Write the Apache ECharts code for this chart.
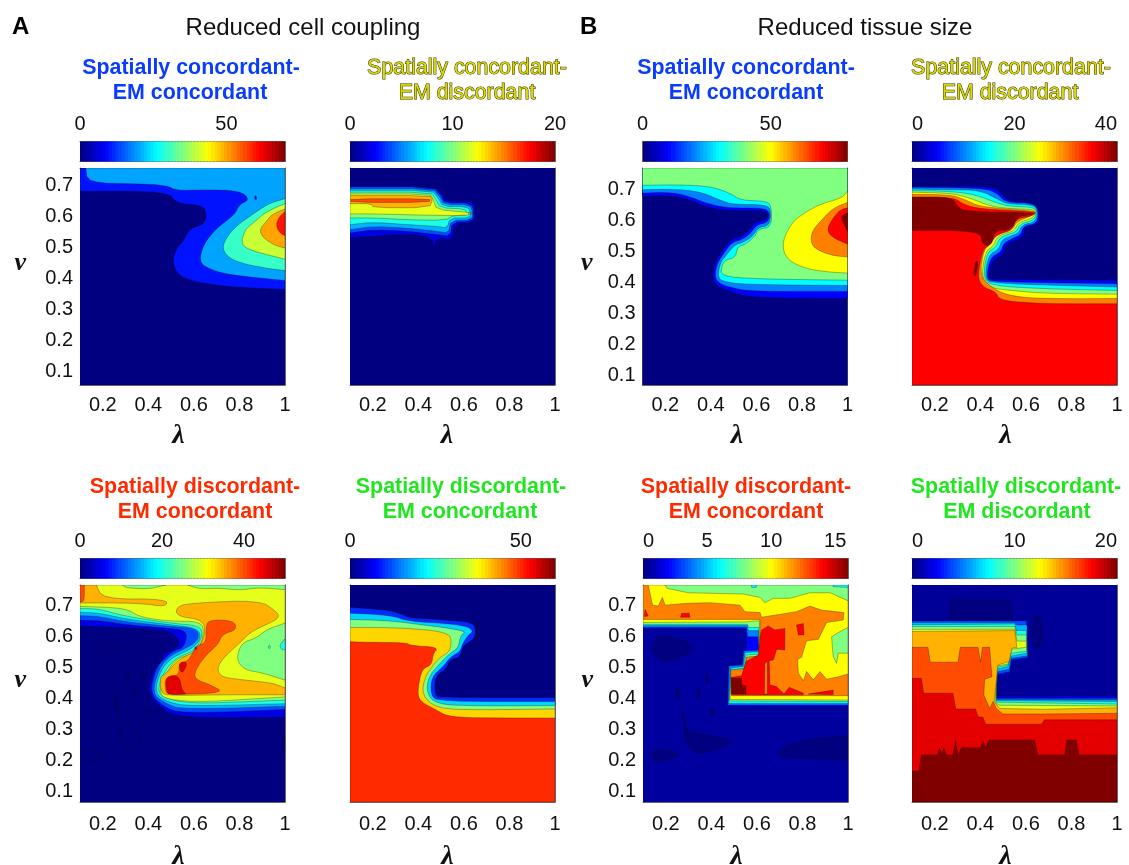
<!DOCTYPE html>
<html><head><meta charset="utf-8">
<style>html,body{margin:0;padding:0;background:#fff}#c{width:1129px;height:865px}</style>
<script src="https://cdn.jsdelivr.net/npm/echarts@6/dist/echarts.min.js"></script>
</head><body><div id="c"></div>
<script>
// ---------- Values ----------
const lambdaTicks = [0.2, 0.4, 0.6, 0.8, 1];
const nuTicks = [0.1, 0.2, 0.3, 0.4, 0.5, 0.6, 0.7];
const colorMax = [70, 20, 80, 40, 50, 60, 16, 20];
const colorTicks = [[0, 50], [0, 10, 20], [0, 50], [0, 20, 40], [0, 20, 40], [0, 50], [0, 5, 10, 15], [0, 10, 20]];
const headers = ['Reduced cell coupling', 'Reduced tissue size'];
const panelLetters = ['A', 'B'];
const titleLine1 = ['Spatially concordant-', 'Spatially concordant-', 'Spatially concordant-', 'Spatially concordant-',
  'Spatially discordant-', 'Spatially discordant-', 'Spatially discordant-', 'Spatially discordant-'];
const titleLine2 = ['EM concordant', 'EM discordant', 'EM concordant', 'EM discordant',
  'EM concordant', 'EM concordant', 'EM concordant', 'EM discordant'];

// Each contour band: [level, outline of the region in (lambda, nu)].
const top_ = c => c.concat([[1, .75], [.1, .75]]);
const bot_ = c => c.concat([[1, .05], [.1, .05]]);
const all_ = [[.1, .05], [1, .05], [1, .75], [.1, .75]];

const bandsP1 = [
  [0, all_],
  [10, top_([[.1,.675],[.488,.675],[.524,.635],[.644,.63],[.656,.594],[.641,.567],[.58,.554],[.554,.513],[.524,.492],[.505,.449],[.532,.401],[.627,.379],[.773,.366],[1,.358]])],
  [20, top_([[.126,.75],[.132,.702],[.363,.699],[.48,.694],[.524,.677],[.641,.68],[.802,.677],[.846,.648],[.799,.632],[.78,.6],[.7,.556],[.641,.503],[.624,.449],[.656,.428],[.744,.406],[1,.387]])],
  [10, [[.865,.648],[.87,.665],[.878,.648]]],
  [30, [[1,.651],[.934,.637],[.875,.61],[.773,.556],[.722,.5],[.744,.465],[.802,.444],[.905,.428],[1,.419]]],
  [40, [[1,.635],[.919,.61],[.861,.573],[.824,.551],[.805,.503],[.861,.481],[1,.456]]],
  [50, [[1,.618],[.941,.6],[.919,.578],[.887,.551],[.905,.524],[.956,.5],[1,.492]]],
  [60, [[1,.61],[.971,.589],[.961,.562],[.978,.54],[1,.532]]]
];
const bandsP2 = [
  [0, all_],
  [2, [[.1,.693],[.466,.693],[.513,.659],[.527,.643],[.644,.643],[.65,.605],[.646,.573],[.556,.57],[.551,.517],[.48,.526],[.469,.484],[.461,.526],[.356,.538],[.1,.524]]],
  [4, [[.1,.689],[.466,.689],[.502,.659],[.517,.637],[.634,.637],[.644,.605],[.638,.578],[.546,.575],[.542,.53],[.48,.535],[.352,.546],[.202,.551],[.1,.54]]],
  [6, [[.1,.683],[.463,.683],[.495,.656],[.513,.632],[.627,.632],[.638,.605],[.634,.583],[.542,.581],[.533,.54],[.48,.546],[.356,.556],[.202,.562],[.1,.551]]],
  [8, [[.1,.678],[.458,.678],[.488,.653],[.507,.626],[.612,.626],[.63,.608],[.627,.589],[.539,.589],[.527,.556],[.48,.562],[.356,.567],[.202,.575],[.1,.567]]],
  [10, [[.1,.672],[.454,.672],[.477,.648],[.498,.621],[.605,.618],[.612,.605],[.609,.597],[.554,.597],[.517,.581],[.356,.583],[.202,.589],[.1,.589]]],
  [12, [[.1,.666],[.451,.666],[.466,.648],[.48,.616],[.605,.608],[.641,.603],[.605,.597],[.48,.597],[.202,.602],[.1,.602]]],
  [14, [[.1,.661],[.451,.661],[.463,.648],[.448,.622],[.202,.622],[.195,.635],[.1,.635]]],
  [14, [[.62,.607],[.635,.603],[.62,.6]]],
  [16, [[.104,.651],[.451,.651],[.448,.639],[.104,.639]]]
];
const bandsP3 = [
  [0, all_],
  [10, top_([[.1,.659],[.236,.661],[.309,.646],[.382,.624],[.47,.612],[.631,.612],[.654,.603],[.646,.583],[.594,.576],[.565,.546],[.529,.527],[.485,.519],[.448,.481],[.419,.444],[.404,.401],[.426,.368],[.485,.352],[.58,.331],[1,.329]])],
  [20, top_([[.1,.669],[.236,.672],[.317,.655],[.39,.634],[.477,.621],[.631,.621],[.66,.607],[.653,.575],[.602,.567],[.573,.538],[.536,.519],[.492,.51],[.458,.476],[.429,.444],[.416,.401],[.436,.377],[.499,.362],[.587,.352],[1,.352]])],
  [30, top_([[.1,.68],[.251,.682],[.36,.672],[.441,.646],[.499,.632],[.646,.632],[.665,.61],[.657,.564],[.609,.559],[.584,.53],[.543,.51],[.507,.503],[.47,.471],[.441,.444],[.431,.401],[.448,.385],[.543,.374],[1,.371]])],
  [40, top_([[.1,.694],[.251,.696],[.397,.691],[.485,.669],[.529,.646],[.646,.643],[.666,.626],[.666,.559],[.609,.553],[.594,.53],[.551,.503],[.518,.497],[.507,.46],[.463,.454],[.448,.433],[.444,.401],[.602,.392],[1,.388]])],
  [50, [[1,.675],[.975,.653],[.872,.632],[.777,.589],[.741,.556],[.712,.503],[.734,.454],[.821,.424],[.924,.414],[1,.411]]],
  [60, [[1,.639],[.938,.621],[.887,.583],[.843,.546],[.839,.503],[.88,.481],[.938,.467],[1,.463]]],
  [70, [[1,.621],[.968,.616],[.931,.583],[.909,.549],[.938,.524],[1,.505]]],
  [80, [[1,.605],[.975,.597],[.975,.583],[1,.546]]]
];
const bandsP4 = [
  [0, all_],
  [5, bot_([[.1,.691],[.429,.691],[.48,.68],[.517,.643],[.634,.64],[.663,.61],[.656,.567],[.597,.56],[.59,.53],[.554,.517],[.51,.503],[.502,.47],[.451,.454],[.436,.395],[.444,.39],[1,.388]])],
  [10, bot_([[.1,.688],[.415,.685],[.473,.669],[.51,.639],[.634,.637],[.656,.61],[.649,.57],[.59,.564],[.578,.535],[.546,.524],[.502,.508],[.491,.478],[.444,.463],[.426,.395],[.451,.382],[1,.377]])],
  [15, bot_([[.1,.682],[.268,.68],[.4,.678],[.48,.648],[.517,.634],[.634,.632],[.652,.61],[.641,.575],[.583,.567],[.568,.54],[.532,.53],[.495,.519],[.48,.487],[.436,.47],[.419,.395],[.451,.377],[1,.366]])],
  [20, bot_([[.1,.677],[.268,.675],[.378,.664],[.473,.637],[.532,.626],[.634,.624],[.649,.608],[.634,.581],[.575,.57],[.558,.543],[.517,.535],[.485,.524],[.466,.492],[.429,.478],[.412,.395],[.451,.37],[.693,.36],[1,.355]])],
  [25, bot_([[.1,.672],[.268,.669],[.356,.653],[.444,.626],[.546,.618],[.637,.616],[.644,.605],[.627,.587],[.568,.575],[.546,.546],[.51,.54],[.473,.527],[.456,.497],[.422,.481],[.404,.395],[.444,.363],[.532,.355],[.693,.345],[1,.343]])],
  [30, bot_([[.1,.665],[.268,.664],[.334,.648],[.4,.624],[.634,.612],[.643,.605],[.619,.594],[.561,.578],[.539,.549],[.495,.54],[.466,.53],[.444,.503],[.415,.487],[.397,.401],[.458,.36],[.535,.336],[.693,.328],[1,.329]])],
  [35, bot_([[.1,.656],[.283,.656],[.327,.632],[.4,.618],[.634,.609],[.644,.603],[.619,.594],[.558,.586],[.539,.551],[.492,.54],[.461,.527],[.441,.503],[.41,.487],[.388,.401],[.407,.368],[.47,.349],[.48,.328],[.546,.318],[.693,.312],[1,.312]])],
  [40, [[.1,.656],[.276,.656],[.305,.621],[.341,.61],[.634,.605],[.627,.6],[.561,.594],[.539,.551],[.461,.548],[.451,.501],[.41,.501],[.4,.548],[.1,.548]]],
  [40, [[.378,.449],[.39,.449],[.382,.403],[.371,.403]]]
];
const bandsP5 = [
  [0, all_],
  [0, [[.162,.55],[.184,.565],[.228,.563],[.279,.549],[.242,.531],[.191,.529]]],
  [0, [[.125,.228],[.213,.2],[.128,.173]]],
  [0, [[.275,.326],[.389,.248],[.286,.21]]],
  [0, [[.245,.423],[.275,.332],[.26,.326]]],
  [0, [[.308,.482],[.319,.455],[.308,.423],[.301,.455]]],
  [0, [[.377,.466],[.386,.45],[.379,.432],[.373,.45]]],
  [0, [[.339,.418],[.345,.402],[.339,.382],[.333,.402]]],
  [0, [[.397,.35],[.408,.35],[.401,.329]]],
  [0, [[.984,.251],[1,.251],[1,.219]]],
  [5, top_([[.1,.617],[.375,.611],[.507,.6],[.543,.558],[.507,.541],[.47,.531],[.455,.498],[.419,.477],[.397,.402],[.448,.359],[.521,.321],[1,.323]])],
  [10, top_([[.1,.636],[.191,.635],[.301,.622],[.477,.611],[.573,.604],[.558,.549],[.514,.539],[.474,.515],[.433,.482],[.407,.402],[.463,.359],[.543,.335],[1,.348]])],
  [15, top_([[.1,.651],[.184,.649],[.286,.633],[.477,.617],[.609,.611],[.624,.582],[.595,.558],[.543,.539],[.492,.52],[.448,.482],[.416,.402],[.47,.369],[.551,.348],[1,.359]])],
  [20, top_([[.1,.662],[.184,.66],[.301,.64],[.492,.622],[.617,.611],[.631,.58],[.602,.55],[.551,.531],[.504,.515],[.455,.477],[.426,.402],[.485,.372],[.58,.359],[1,.367]])],
  [25, top_([[.1,.674],[.184,.673],[.286,.651],[.492,.627],[.624,.619],[.639,.59],[.609,.541],[.558,.525],[.514,.509],[.47,.472],[.436,.402],[.499,.378],[.624,.367],[1,.379]])],
  [30, top_([[.1,.681],[.301,.676],[.36,.647],[.492,.633],[.631,.633],[.646,.595],[.617,.529],[.565,.522],[.521,.509],[.48,.468],[.445,.402],[.485,.38],[.639,.372],[1,.389]])],
  [25, [[.286,.75],[.301,.741],[.397,.737],[.448,.745],[.477,.75]]],
  [25, [[.573,.75],[.624,.737],[.712,.74],[.8,.733],[.888,.742],[1,.735],[1,.75]]],
  [25, [[1,.627],[.918,.606],[.874,.579],[.808,.563],[.786,.509],[.822,.477],[.903,.466],[1,.443]]],
  [20, [[1,.576],[.976,.557],[.984,.541],[1,.541]]],
  [20, [[.925,.55],[.931,.557],[.937,.55],[.931,.543]]],
  [35, [[.1,.75],[.172,.75],[.198,.705],[.48,.705],[.48,.679],[.36,.692],[.1,.692]]],
  [40, [[.1,.75],[.119,.75],[.119,.696],[.1,.696]]],
  [35, [[.524,.681],[.595,.692],[.888,.701],[.962,.665],[.976,.644],[.918,.622],[.852,.6],[.808,.568],[.705,.498],[.709,.455],[.8,.445],[.947,.434],[1,.418],[1,.396],[.741,.396],[.492,.393],[.455,.402],[.451,.455],[.474,.461],[.521,.501],[.565,.522],[.617,.539],[.651,.595],[.639,.638],[.524,.649]]],
  [40, [[.661,.638],[.778,.635],[.786,.604],[.727,.593],[.705,.558],[.671,.536],[.631,.504],[.602,.466],[.609,.445],[.668,.429],[.739,.402],[.492,.396],[.474,.407],[.474,.455],[.536,.458],[.533,.498],[.573,.504],[.595,.531],[.609,.554],[.653,.563],[.653,.606]]],
  [45, [[.477,.455],[.536,.459],[.548,.407],[.573,.398],[.492,.396],[.48,.407]]],
  [45, [[.536,.502],[.573,.501],[.554,.468],[.539,.472]]],
  [45, [[.602,.55],[.614,.55],[.609,.539]]]
];
const bandsP6 = [
  [0, all_],
  [0, [[.66,.643],[.663,.594],[.66,.546],[.657,.594]]],
  [10, bot_([[.1,.678],[.276,.669],[.334,.653],[.371,.643],[.524,.637],[.641,.629],[.653,.6],[.641,.573],[.597,.556],[.583,.517],[.539,.51],[.524,.481],[.473,.454],[.473,.395],[.495,.387],[1,.387]])],
  [20, bot_([[.1,.659],[.276,.653],[.363,.632],[.524,.626],[.619,.616],[.641,.6],[.619,.589],[.594,.56],[.583,.535],[.539,.517],[.51,.487],[.458,.454],[.454,.395],[.488,.374],[1,.374]])],
  [30, bot_([[.1,.639],[.276,.635],[.422,.621],[.51,.613],[.612,.6],[.586,.589],[.575,.546],[.539,.53],[.495,.497],[.444,.454],[.436,.401],[.48,.365],[.641,.36],[1,.361]])],
  [40, bot_([[.1,.613],[.276,.613],[.451,.605],[.524,.594],[.546,.578],[.539,.535],[.495,.517],[.466,.492],[.429,.454],[.415,.395],[.48,.352],[.641,.347],[1,.35]])],
  [50, bot_([[.1,.567],[.173,.565],[.349,.564],[.363,.555],[.488,.549],[.466,.53],[.458,.492],[.422,.481],[.407,.454],[.396,.395],[.415,.371],[.48,.347],[.524,.327],[.641,.321],[1,.321]])]
];
const bandsP7 = [
  [0.5, all_],
  [0, [[.138,.557],[.167,.583],[.219,.587],[.343,.549],[.233,.506],[.182,.506],[.145,.53]]],
  [0, [[.27,.374],[.284,.298],[.299,.277],[.394,.264],[.508,.248],[.423,.218],[.292,.202]]],
  [0, [[.138,.226],[.289,.204],[.138,.17]]],
  [0, [[.675,.199],[.76,.248],[1,.263],[1,.186],[.804,.191]]],
  [0, [[.248,.424],[.265,.398],[.252,.377],[.245,.401]]],
  [0, [[.343,.422],[.35,.401],[.343,.377],[.336,.401]]],
  [0, [[.382,.471],[.388,.449],[.379,.428],[.375,.449]]],
  [0, [[.398,.355],[.416,.345],[.404,.323],[.394,.345]]],
  [2, top_([[.1,.609],[.549,.609],[.555,.549],[.54,.543],[.533,.494],[.476,.492],[.467,.358],[1,.358]])],
  [4, top_([[.1,.613],[.555,.613],[.559,.583],[.603,.583],[.608,.54],[.543,.537],[.537,.492],[.477,.489],[.473,.363],[1,.363]])],
  [6, top_([[.1,.619],[.558,.619],[.562,.603],[.608,.603],[.611,.535],[.548,.532],[.54,.487],[.486,.482],[.476,.368],[1,.368]])],
  [8, top_([[.1,.623],[.558,.623],[.564,.613],[.608,.613],[.611,.527],[.552,.524],[.543,.481],[.489,.476],[.479,.376],[1,.374]])],
  [10, top_([[.1,.629],[.548,.631],[.611,.635],[.612,.521],[.555,.516],[.548,.478],[.491,.472],[.482,.381],[1,.379]])],
  [8, [[.197,.75],[.207,.739],[.299,.725],[.416,.723],[.54,.721],[.614,.71],[.635,.693],[.672,.707],[.745,.707],[.833,.725],[.921,.725],[1,.699],[1,.75]]],
  [6, [[.577,.75],[.599,.75],[.596,.742],[.577,.742]]],
  [6, [[.935,.75],[1,.75],[1,.742],[.935,.745]]],
  [8, [[1,.613],[.965,.6],[.928,.583],[.935,.519],[.95,.497],[.957,.53],[1,.53]]],
  [12, [[.1,.75],[.123,.75],[.142,.685],[.167,.682],[.185,.71],[.197,.685],[.292,.691],[.394,.693],[.526,.685],[.548,.664],[.614,.661],[.621,.646],[.774,.664],[.833,.682],[.884,.669],[.982,.661],[.979,.637],[.906,.629],[.87,.575],[.818,.57],[.796,.517],[.779,.51],[.782,.465],[.804,.441],[.818,.471],[.848,.444],[.877,.471],[.906,.446],[.957,.454],[1,.463],[1,.393],[.488,.393],[.485,.476],[.548,.48],[.555,.517],[.614,.521],[.614,.639],[.1,.639]]],
  [14, [[.621,.605],[.65,.618],[.679,.605],[.723,.61],[.723,.54],[.687,.543],[.672,.508],[.654,.506],[.657,.428],[.687,.422],[.719,.398],[.742,.42],[.804,.401],[.804,.396],[.489,.396],[.486,.452],[.533,.457],[.552,.503],[.606,.524],[.614,.583]]],
  [12, [[.633,.398],[.635,.497],[.646,.503],[.646,.398]]],
  [14, [[.774,.621],[.804,.626],[.807,.589],[.782,.589]]],
  [14, [[.826,.398],[.935,.411],[.935,.396]]],
  [14, [[.27,.659],[.303,.659],[.306,.646],[.265,.646]]],
  [14, [[.109,.672],[.123,.65],[.106,.648]]],
  [16, [[.489,.449],[.533,.449],[.533,.428],[.552,.424],[.552,.398],[.489,.398]]]
];
const bandsP8 = [
  [0.5, all_],
  [0, [[.273,.702],[.529,.702],[.543,.642],[.262,.642]]],
  [0, [[.643,.65],[.66,.65],[.675,.602],[.66,.549],[.638,.549],[.631,.602]]],
  [2, bot_([[.1,.637],[.609,.637],[.614,.546],[.609,.51],[.54,.503],[.532,.463],[.48,.457],[.47,.392],[1,.392]])],
  [4, bot_([[.1,.634],[.602,.634],[.609,.517],[.536,.508],[.529,.47],[.477,.463],[.467,.385],[1,.385]])],
  [6, bot_([[.1,.629],[.551,.629],[.558,.621],[.605,.621],[.606,.521],[.536,.514],[.526,.478],[.475,.47],[.467,.381],[1,.379]])],
  [8, bot_([[.1,.622],[.551,.624],[.558,.603],[.602,.603],[.605,.53],[.536,.521],[.521,.487],[.47,.478],[.469,.377],[1,.374]])],
  [10, bot_([[.1,.616],[.551,.616],[.561,.589],[.602,.589],[.603,.536],[.536,.53],[.521,.492],[.47,.484],[.47,.372],[1,.366]])],
  [12, bot_([[.1,.607],[.551,.607],[.561,.569],[.602,.569],[.602,.549],[.536,.543],[.521,.495],[.473,.489],[.464,.37],[.485,.362],[1,.36]])],
  [14, bot_([[.1,.6],[.551,.603],[.561,.549],[.539,.546],[.526,.503],[.477,.492],[.461,.374],[.485,.352],[.675,.349],[1,.354]])],
  [16, bot_([[.1,.549],[.17,.549],[.18,.501],[.302,.501],[.312,.549],[.39,.549],[.401,.501],[.409,.549],[.441,.549],[.451,.454],[.419,.446],[.415,.395],[.441,.352],[.456,.374],[.47,.352],[.499,.334],[.675,.334],[1,.336]])],
  [18, bot_([[.1,.449],[.141,.449],[.151,.401],[.28,.401],[.292,.35],[.379,.35],[.39,.325],[.412,.323],[.423,.301],[.668,.301],[.682,.315],[1,.315]])],
  [20, bot_([[.1,.15],[.131,.15],[.141,.202],[.211,.202],[.221,.225],[.23,.204],[.24,.225],[.251,.202],[.28,.202],[.292,.248],[.302,.202],[.317,.225],[.401,.225],[.412,.248],[.423,.225],[.438,.25],[.638,.25],[.653,.202],[.77,.202],[.78,.25],[.821,.25],[.833,.202],[1,.202]])]
];
const allBands = [bandsP1, bandsP2, bandsP3, bandsP4, bandsP5, bandsP6, bandsP7, bandsP8];

// ---------- Layout and style ----------
const panelLeft = [80, 350, 642.5, 912, 80, 350, 643, 912];
const panelTop = [168, 168, 168, 168, 585, 585, 585, 585];
const panelW = 205, panelH = 217, barH = 20, barGap = 26.5;
const titleX = [191, 467, 746, 1011, 195, 461, 746, 1016];
const titleX2 = [190, 467, 746, 1010, 195, 460, 746, 1017];
const titleY = [68, 68, 68, 68, 487, 487, 487, 487];
const titleColor = ['#0a3cff', '#dcd800', '#0a3cff', '#dcd800', '#ff2a00', '#1fe61f', '#ff2a00', '#1fe61f'];
const titleOutline = [false, true, false, true, false, false, false, false];
const alignMin = [null, null, null, 'left', null, null, 'left', 'left'];
const alignMax = [null, null, null, 'right', null, null, null, 'right'];
const nuLabelLineHeight = [4, 0, 12, 0, 10, 0, 10, 0];
const nuNameGap = [54, 0, 50, 0, 54, 0, 50, 0];
const lambdaNameGap = [37, 37, 37, 37, 41, 41, 41, 41];
const lambdaNamePad = [8, 11, 16, 18, 8, 10, 18, 18];
const lambdaLabelMargin = [10, 10, 10, 10, 12, 12, 12, 12];
const roundPasses = [2, 1, 2, 2, 2, 2, 0, 0];
const FONT = '"Liberation Sans", Arial, sans-serif';
const SYM = '"Liberation Serif", serif';
const EDGE = '#666';

function jet(t) {
  t = Math.max(0, Math.min(1, t));
  const c = x => Math.round(255 * Math.max(0, Math.min(1, x)));
  const r = 1.5 - Math.abs(4 * t - 3), g = 1.5 - Math.abs(4 * t - 2), b = 1.5 - Math.abs(4 * t - 1);
  return 'rgb(' + c(r) + ',' + c(g) + ',' + c(b) + ')';
}
// Rounds the corners of an outline the way a contour line looks; points on the plot edge stay put.
function roundOutline(pts, passes) {
  const onEdge = v => v[0] <= .1 || v[0] >= 1 || v[1] >= .75 || v[1] <= .05;
  const mix = (a, b) => [a[0] * .75 + b[0] * .25, a[1] * .75 + b[1] * .25];
  let cur = pts;
  for (let n = 0; n < passes; n++) {
    const out = [];
    cur.forEach((v, i) => {
      if (onEdge(v)) { out.push(v); return; }
      out.push(mix(v, cur[(i - 1 + cur.length) % cur.length]), mix(v, cur[(i + 1) % cur.length]));
    });
    cur = out;
  }
  return cur;
}

const grid = [], xAxis = [], yAxis = [], series = [], graphicEls = [];
function addBox(idx, gridSpec, xOpt, yOpt, xOther, yOther) {
  grid.push(Object.assign({ outerBoundsMode: 'none', containLabel: false }, gridSpec));
  xAxis.push(Object.assign({ type: 'value', gridIndex: idx, position: 'bottom' }, xOpt));
  xAxis.push(Object.assign({ type: 'value', gridIndex: idx, position: 'top' }, xOther));
  yAxis.push(Object.assign({ type: 'value', gridIndex: idx, position: 'left' }, yOpt));
  yAxis.push(Object.assign({ type: 'value', gridIndex: idx, position: 'right' }, yOther));
}
const line = { show: true, onZero: false, lineStyle: { color: EDGE, width: 1 } };
const tick = vals => ({ show: true, inside: true, length: 2.5, customValues: vals, lineStyle: { color: EDGE, width: 1 } });
const off = { show: false };

allBands.forEach((bands, p) => {
  const g = grid.length;
  const max = colorMax[p];
  const showY = p % 2 === 0;
  addBox(g, { left: panelLeft[p], top: panelTop[p], width: panelW, height: panelH },
    { min: .1, max: 1, axisLine: line, axisTick: tick(lambdaTicks), splitLine: off,
      axisLabel: { show: true, customValues: lambdaTicks, margin: lambdaLabelMargin[p], fontFamily: FONT, fontSize: 20, color: '#111', formatter: v => String(v) },
      name: 'λ', nameLocation: 'middle', nameGap: lambdaNameGap[p],
      nameTextStyle: { fontFamily: SYM, fontStyle: 'italic', fontWeight: 'bold', fontSize: 28, color: '#111', padding: [0, lambdaNamePad[p], 0, 0] } },
    { min: .05, max: .75, axisLine: line, axisTick: tick(nuTicks), splitLine: off,
      axisLabel: showY ? { show: true, customValues: nuTicks, margin: 7, verticalAlign: 'top', lineHeight: nuLabelLineHeight[p],
        fontFamily: FONT, fontSize: 20, color: '#111', formatter: v => String(v) } : off,
      name: showY ? 'ν' : '', nameLocation: 'middle', nameRotate: 0, nameGap: nuNameGap[p],
      nameTextStyle: { fontFamily: SYM, fontStyle: 'italic', fontWeight: 'bold', fontSize: 26, color: '#111', verticalAlign: 'bottom' } },
    { min: .1, max: 1, axisLine: line, axisTick: tick(lambdaTicks), axisLabel: off, splitLine: off },
    { min: .05, max: .75, axisLine: line, axisTick: tick(nuTicks), axisLabel: off, splitLine: off });
  const outlines = bands.map(b => roundOutline(b[1], (p === 6 && b[0] === 0) ? 2 : roundPasses[p]));
  series.push({
    type: 'custom', coordinateSystem: 'cartesian2d', xAxisIndex: 2 * g, yAxisIndex: 2 * g,
    animation: false, silent: true, clip: true,
    data: bands.map((b, i) => [i]),
    renderItem: (params, api) => {
      const i = api.value(0), b = bands[i];
      const isBase = b[1] === all_;
      return { type: 'polygon', shape: { points: outlines[i].map(pt => api.coord(pt)) },
        style: { fill: jet(b[0] / max), stroke: isBase ? null : 'rgba(20,10,0,0.5)', lineWidth: isBase ? 0 : 0.6 } };
    }
  });
  const cb = grid.length;
  addBox(cb, { left: panelLeft[p], top: panelTop[p] - barGap, width: panelW, height: barH },
    { min: 0, max: max, axisLine: line, axisTick: tick(colorTicks[p]), axisLabel: off, splitLine: off },
    { min: 0, max: 1, axisLine: line, axisTick: off, axisLabel: off, splitLine: off },
    { min: 0, max: max, axisLine: line, axisTick: tick(colorTicks[p]), splitLine: off,
      axisLabel: { show: true, customValues: colorTicks[p], margin: 7, fontFamily: FONT, fontSize: 20, color: '#111',
        alignMinLabel: alignMin[p] || undefined, alignMaxLabel: alignMax[p] || undefined } },
    { min: 0, max: 1, axisLine: line, axisTick: off, axisLabel: off, splitLine: off });
  series.push({
    type: 'custom', coordinateSystem: 'cartesian2d', xAxisIndex: 2 * cb, yAxisIndex: 2 * cb,
    animation: false, silent: true, data: Array.from({ length: 64 }, (_, i) => [i]),
    renderItem: (params, api) => {
      const i = api.value(0);
      const a = api.coord([i / 64 * max, 0]), c = api.coord([(i + 1) / 64 * max, 1]);
      const x0 = Math.round(a[0]), x1 = Math.round(c[0]);
      return { type: 'rect', shape: { x: x0, y: c[1], width: Math.min(x1 - x0 + 1, panelLeft[p] + panelW - x0), height: a[1] - c[1] },
        style: { fill: jet((i + 0.5) / 64) } };
    }
  });
  [[titleLine1[p], titleX[p], titleY[p]], [titleLine2[p], titleX2[p], titleY[p] + 25]].forEach(t => {
    graphicEls.push({ type: 'text', x: t[1], y: t[2], silent: true, z: 50,
      style: { text: t[0], align: 'center', verticalAlign: 'middle',
        font: (titleOutline[p] ? 'normal' : 'bold') + ' 21.4px ' + FONT, fill: titleColor[p],
        stroke: titleOutline[p] ? '#2a2a00' : null, lineWidth: titleOutline[p] ? 1 : 0 } });
  });
});

[[headers[0], 303], [headers[1], 865]].forEach(t => {
  graphicEls.push({ type: 'text', x: t[1], y: 28, silent: true,
    style: { text: t[0], align: 'center', verticalAlign: 'middle', font: 'normal 24px ' + FONT, fill: '#111' } });
});
[[panelLetters[0], 12], [panelLetters[1], 580]].forEach(t => {
  graphicEls.push({ type: 'text', x: t[1], y: 27, silent: true,
    style: { text: t[0], align: 'left', verticalAlign: 'middle', font: 'bold 24px ' + FONT, fill: '#000' } });
});

const chart = echarts.init(document.getElementById('c'), null, { renderer: 'canvas' });
chart.setOption({
  animation: false, backgroundColor: '#fff',
  grid, xAxis, yAxis, series,
  graphic: { elements: graphicEls }
});
</script></body></html>
